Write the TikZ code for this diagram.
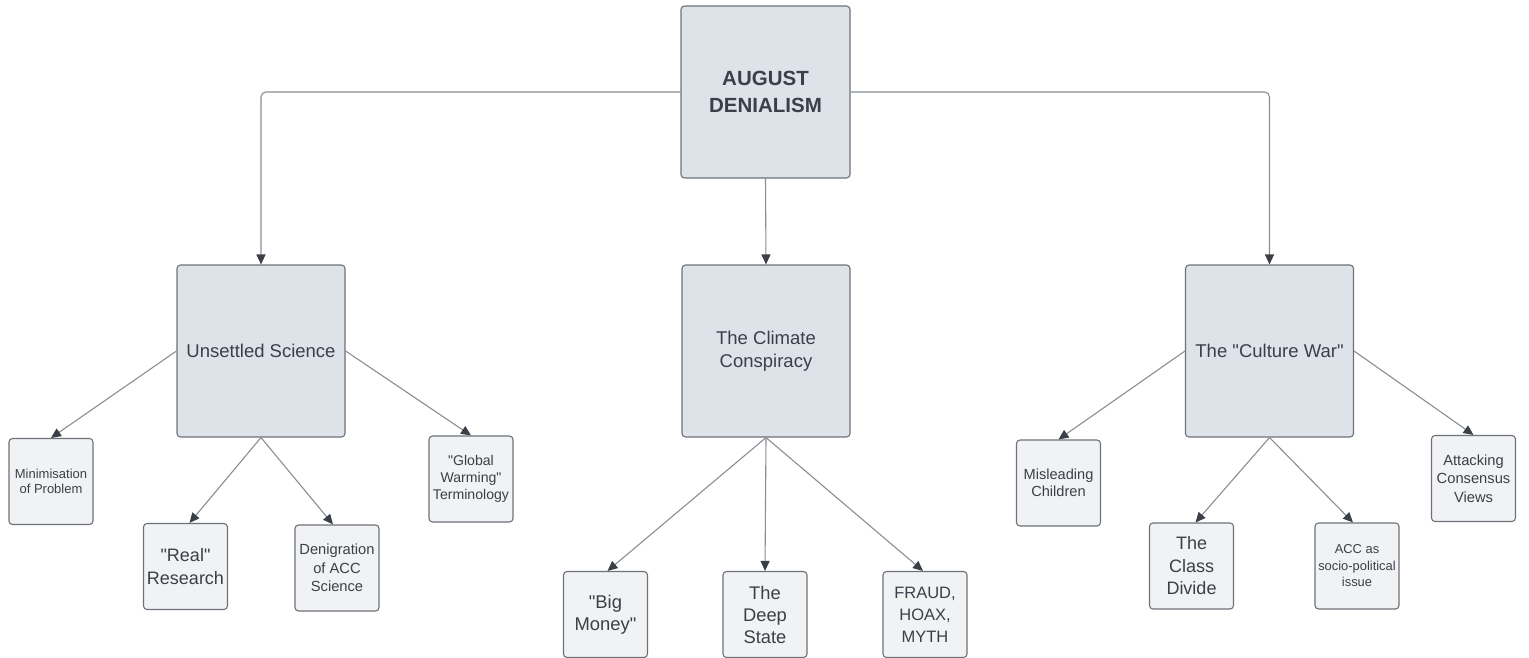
\documentclass[tikz,border=0pt]{standalone}
\usepackage{fontspec}
\setmainfont[Ligatures=TeXOff]{Liberation Sans}
\usepackage{tikz}
\usetikzlibrary{arrows.meta}
\definecolor{boxline}{HTML}{6E7278}
\definecolor{bigfill}{HTML}{DEE2E9}
\definecolor{smallfill}{HTML}{F1F2F4}
\definecolor{inkgray}{HTML}{3B3F48}
\definecolor{linkgray}{HTML}{8A8E94}
\tikzset{
  bigbox/.style={draw=boxline, fill=bigfill, line width=1.1pt, rounded corners=3.5pt,
    minimum width=168, minimum height=172, inner sep=0pt, align=center, text=inkgray},
  smallbox/.style={draw=boxline, fill=smallfill, line width=1.1pt, rounded corners=3.5pt,
    minimum width=84, minimum height=86, inner sep=0pt, align=center, text=inkgray},
  link/.style={draw=linkgray, line width=1.1pt,
    -{Triangle[length=10pt, width=9pt, color=inkgray]}},
}
\newcommand{\fs}[2]{\fontsize{#1}{#2}\selectfont}
\begin{document}
\begin{tikzpicture}[x=1pt, y=-1pt]
  \useasboundingbox (0,0) rectangle (1529,658);
  \fill[white] (0,0) rectangle (1529,658);

  \node[bigbox, minimum width=169, font=\fs{20.5}{27}\bfseries] (root) at (765.5,92) {AUGUST\\DENIALISM};

  \node[bigbox, font=\fs{18.5}{23}] (unsci) at (261,351) {Unsettled Science};
  \node[bigbox, font=\fs{18.5}{23}] (clim) at (766,351) {The Climate\\Conspiracy};
  \node[bigbox, font=\fs{18.5}{23}] (cult) at (1269.5,351) {The "Culture War"};

  \node[smallbox, font=\fs{13}{15.5}] (minim) at (51,481.5) {Minimisation\\of Problem};
  \node[smallbox, font=\fs{18}{23}] (real) at (185.5,566.5) {"Real"\\Research};
  \node[smallbox, font=\fs{14.7}{18.5}] (denig) at (337,568) {Denigration\\of ACC\\Science};
  \node[smallbox, font=\fs{14.1}{17}] (glob) at (471,479) {"Global\\Warming"\\Terminology};

  \node[smallbox, font=\fs{18.4}{22}] (money) at (605.5,614.5) {"Big\\Money"};
  \node[smallbox, font=\fs{18.3}{22}] (deep) at (765,614.5) {The\\Deep\\State};
  \node[smallbox, font=\fs{16.5}{22}] (fraud) at (925,614.5) {FRAUD,\\HOAX,\\MYTH};

  \node[smallbox, font=\fs{14.6}{17.5}] (mislead) at (1058.5,483) {Misleading\\Children};
  \node[smallbox, font=\fs{18}{22.5}] (classdiv) at (1191.5,566) {The\\Class\\Divide};
  \node[smallbox, font=\fs{12.9}{16.5}] (accsp) at (1357,566) {ACC as\\socio-political\\issue};
  \node[smallbox, font=\fs{14.7}{18.5}] (attack) at (1473.5,478.5) {Attacking\\Consensus\\Views};

  \draw[link, rounded corners=5pt] (root.west) -| (unsci.north);
  \draw[link] (root.south) -- (clim.north);
  \draw[link, rounded corners=5pt] (root.east) -| (cult.north);

  \draw[link] (unsci.west) -- (minim.north);
  \draw[link] (unsci.south) -- ([xshift=4pt]real.north);
  \draw[link] (unsci.south) -- ([xshift=-4pt]denig.north);
  \draw[link] (unsci.east) -- (glob.north);

  \draw[link] (clim.south) -- ([xshift=2pt]money.north);
  \draw[link] (clim.south) -- (deep.north);
  \draw[link] (clim.south) -- ([xshift=-2pt]fraud.north);

  \draw[link] (cult.west) -- (mislead.north);
  \draw[link] (cult.south) -- ([xshift=4pt]classdiv.north);
  \draw[link] (cult.south) -- ([xshift=-4pt]accsp.north);
  \draw[link] (cult.east) -- (attack.north);
\end{tikzpicture}
\end{document}
